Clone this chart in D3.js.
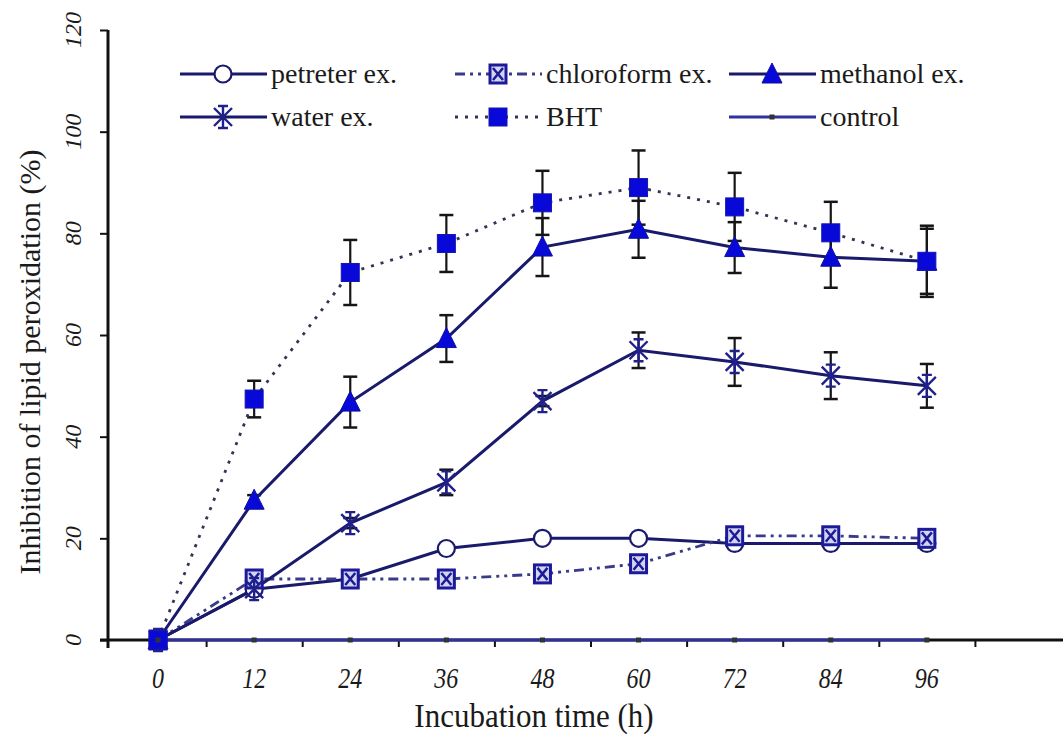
<meta charset="utf-8">
<style>
  body { margin: 0; background: #fff; }
  svg text { font-family: "Liberation Serif", "DejaVu Serif", serif; fill: #1a1a1a; }
</style>
<body>
<script src="https://d3js.org/d3.v7.min.js"></script>
<script>
  // values
  const hours = [0, 12, 24, 36, 48, 60, 72, 84, 96];
  const petreter = [0, 10, 12, 18, 20, 20, 19, 19, 19];
  const chloroform = [0, 12, 12, 12, 13, 15, 20.5, 20.5, 20];
  const methanol = [0, 27.5, 46.8, 59.3, 77.3, 80.8, 77.2, 75.3, 74.5];
  const methanolErr = [0, 1, 5, 4.6, 5.7, 5.6, 5, 6, 7];
  const water = [0, 10, 23, 31, 47, 57, 54.7, 52, 50];
  const waterErr = [0, 0.5, 1, 2.5, 1, 3.5, 4.7, 4.6, 4.3];
  const bht = [0, 47.4, 72.3, 78, 86, 89, 85.2, 80.1, 74.5];
  const bhtErr = [0, 3.6, 6.4, 5.6, 6.3, 7.3, 6.7, 6.1, 6.4];
  const control = [0, 0, 0, 0, 0, 0, 0, 0, 0];
  const yTicks = [0, 20, 40, 60, 80, 100, 120];
  const xMinorTicks = [6, 18, 30, 42, 54, 66, 78, 90, 102];

  const W = 1064, H = 738;
  const navy = "#1a1a6c", blue = "#0808d8", errCol = "#151515";
  const serif = '"Liberation Serif", "DejaVu Serif", serif';

  const svg = d3.select("body").append("svg")
    .attr("width", W).attr("height", H);

  const x = d3.scaleLinear().domain([-6.25, 113]).range([108, 1063]);
  const y = d3.scaleLinear().domain([0, 120]).range([640, 30]);

  // axes
  const xAxis = svg.append("g").attr("transform", `translate(0, ${y(0)})`)
    .call(d3.axisBottom(x).tickValues(xMinorTicks).tickSize(7).tickFormat(""));
  xAxis.select(".domain").attr("d", `M100,0H1063`).attr("stroke", "#111").attr("stroke-width", 3);
  xAxis.selectAll(".tick line").attr("stroke", "#111").attr("stroke-width", 2);

  svg.append("g").selectAll("text").data(hours).join("text")
    .attr("transform", d => `translate(${x(d)}, 688) scale(0.8, 1)`)
    .attr("text-anchor", "middle")
    .style("font-family", serif).style("font-style", "italic").style("font-size", "30px")
    .text(d => d);

  const yAxis = svg.append("g").attr("transform", `translate(108, 0)`)
    .call(d3.axisLeft(y).tickValues(yTicks).tickSize(8).tickFormat(""));
  yAxis.select(".domain").attr("d", `M0,${y(120)}V${y(0) + 8}`).attr("stroke", "#111").attr("stroke-width", 3);
  yAxis.selectAll(".tick line").attr("stroke", "#111").attr("stroke-width", 2);

  svg.append("g").selectAll("text").data(yTicks).join("text")
    .attr("transform", d => `translate(73, ${y(d)}) rotate(-90)`)
    .attr("text-anchor", "middle")
    .attr("dy", "0.35em")
    .style("font-family", serif).style("font-style", "italic").style("font-size", "24px")
    .text(d => d);

  svg.append("text")
    .attr("transform", `translate(40, 362) rotate(-90)`)
    .attr("text-anchor", "middle")
    .style("font-family", serif).style("font-size", "30px")
    .text("Inhibition of lipid peroxidation (%)");

  svg.append("text")
    .attr("transform", "translate(534, 727) scale(0.94, 1)")
    .attr("text-anchor", "middle")
    .style("font-family", serif).style("font-size", "33px")
    .text("Incubation time (h)");

  // markers
  function drawMarker(g, type) {
    if (type === "circle") {
      g.append("circle").attr("r", 8.5).attr("fill", "#fff").attr("stroke", navy).attr("stroke-width", 2.2);
    } else if (type === "xsquare") {
      g.append("rect").attr("x", -8).attr("y", -9).attr("width", 16).attr("height", 18)
        .attr("fill", "#d4d4ee").attr("stroke", "#1a1a9a").attr("stroke-width", 3);
      g.append("path").attr("d", "M-5,-6L5,6M5,-6L-5,6").attr("stroke", "#1a1a9a").attr("stroke-width", 2.5);
    } else if (type === "triangle") {
      g.append("path").attr("d", "M0,-11L10,9L-10,9Z").attr("fill", blue).attr("stroke", "#1010a0").attr("stroke-width", 1);
    } else if (type === "star") {
      g.append("path").attr("d", "M-9,-9L9,9M9,-9L-9,9M0,-11V11M-5,-11H5M-5,11H5")
        .attr("stroke", "#20208a").attr("stroke-width", 2.4).attr("fill", "none");
    } else if (type === "square") {
      g.append("rect").attr("x", -9).attr("y", -9).attr("width", 18).attr("height", 18)
        .attr("fill", blue).attr("stroke", "#1515b0").attr("stroke-width", 1);
    } else if (type === "dot") {
      g.append("rect").attr("x", -2.5).attr("y", -2.5).attr("width", 5).attr("height", 5).attr("fill", "#333");
    }
  }

  const series = [
    { name: "petreter ex.", values: petreter, err: null, marker: "circle", dash: null, color: navy },
    { name: "chloroform ex.", values: chloroform, err: null, marker: "xsquare", dash: "10,5,3,5,3,5", color: "#3a3a8a" },
    { name: "methanol ex.", values: methanol, err: methanolErr, marker: "triangle", dash: null, color: navy },
    { name: "water ex.", values: water, err: waterErr, marker: "star", dash: null, color: navy },
    { name: "BHT", values: bht, err: bhtErr, marker: "square", dash: "3,7", color: "#333355" },
    { name: "control", values: control, err: null, marker: "dot", dash: null, color: "#3030a0" }
  ];

  const line = d3.line().x(d => x(d[0])).y(d => y(d[1]));

  // error bars
  const eb = svg.append("g");
  series.filter(s => s.err).forEach(s => {
    hours.forEach((h, i) => {
      const e = s.err[i];
      if (!e) return;
      const cx = x(h), y1 = y(s.values[i] + e), y2 = y(s.values[i] - e);
      eb.append("line").attr("x1", cx).attr("x2", cx).attr("y1", y1).attr("y2", y2)
        .attr("stroke", errCol).attr("stroke-width", 2.2);
      [y1, y2].forEach(yy => eb.append("line").attr("x1", cx - 7).attr("x2", cx + 7)
        .attr("y1", yy).attr("y2", yy).attr("stroke", errCol).attr("stroke-width", 2.5));
    });
  });

  // lines
  series.forEach(s => {
    svg.append("path")
      .datum(hours.map((h, i) => [h, s.values[i]]))
      .attr("d", line)
      .attr("fill", "none")
      .attr("stroke", s.color)
      .attr("stroke-width", s.dash ? 2.8 : 3)
      .attr("stroke-dasharray", s.dash);
  });

  // points
  series.forEach(s => {
    hours.forEach((h, i) => {
      const g = svg.append("g").attr("transform", `translate(${x(h)}, ${y(s.values[i])})`);
      drawMarker(g, s.marker);
    });
  });

  // legend
  const legendPos = [
    [180, 74], [455, 74], [729, 74],
    [180, 117], [455, 117], [729, 117]
  ];
  const legend = svg.append("g");
  series.forEach((s, i) => {
    const [lx, ly] = legendPos[i];
    const g = legend.append("g").attr("transform", `translate(${lx}, ${ly})`);
    g.append("line").attr("x1", 0).attr("x2", 87).attr("y1", 0).attr("y2", 0)
      .attr("stroke", s.color).attr("stroke-width", 2.8).attr("stroke-dasharray", s.dash);
    drawMarker(g.append("g").attr("transform", "translate(43, 0)"), s.marker);
    g.append("text").attr("x", 91).attr("dy", "0.33em")
      .style("font-family", serif).style("font-size", "28px")
      .text(s.name);
  });
</script>
</body>
